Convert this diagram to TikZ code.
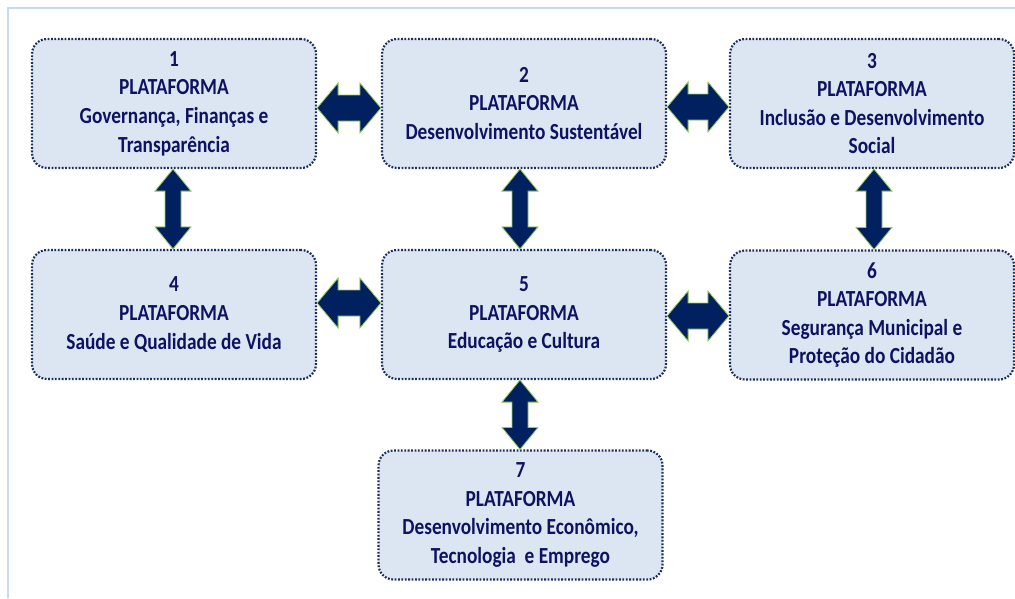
\documentclass[tikz,border=0pt]{standalone}
\usepackage{fontspec}
\setmainfont{Carlito}[FakeStretch=0.84]
\usepackage{tikz}
\usetikzlibrary{calc}
\definecolor{platfill}{RGB}{220,230,242}
\definecolor{platdots}{RGB}{28,46,94}
\definecolor{plattext}{RGB}{14,18,96}
\definecolor{linknavy}{RGB}{0,32,96}
\definecolor{linkgreen}{RGB}{150,200,90}
\definecolor{frameblue}{RGB}{198,217,241}
\newcommand\hlink[3]{%
  \path (#1.east |- 0,#3) coordinate (hs) (#2.west |- 0,#3) coordinate (ht);
  \draw[link] (hs) -- ++(21,-25) -- ++(0,12) -- ($(ht)+(-21,-13)$) -- ++(0,-12) -- (ht)
    -- ++(-21,25) -- ++(0,-12) -- ($(hs)+(21,13)$) -- ++(0,12) -- cycle;}
\newcommand\vlink[3]{%
  \path (#1.south -| #3,0) coordinate (vs) (#2.north -| #3,0) coordinate (vt);
  \draw[link] (vs) -- ++(18,22) -- ++(-10,0) -- ($(vt)+(8,-22)$) -- ++(10,0) -- (vt)
    -- ++(-18,-22) -- ++(10,0) -- ($(vs)+(-8,22)$) -- ++(-10,0) -- cycle;}
\begin{document}
\begin{tikzpicture}
      [x=1pt,y=-1pt,
        plat/.style={draw=platdots,fill=platfill,rounded corners=15pt,
          line width=2.2pt,dash pattern=on 1.8pt off 1.6pt,
          minimum width=284pt,minimum height=129pt,align=center,
          text=plattext,font=\fontsize{23}{28.6}\selectfont\bfseries,
          execute at begin node={\rule{0pt}{22pt}}},
        link/.style={fill=linknavy,draw=linkgreen,line width=0.8pt}]
  \useasboundingbox (0,0) rectangle (1015,598);
  \draw[frameblue,line width=2pt] (8,598) -- (8,8) -- (1015,8);
  \node[plat] (p1) at (174,103.5) {1\\PLATAFORMA\\Governança, Finanças e\\Transparência};
  \node[plat] (p2) at (524,103.5) {2\\PLATAFORMA\\Desenvolvimento Sustentável};
  \node[plat] (p3) at (872,103.5) {3\\PLATAFORMA\\Inclusão e Desenvolvimento\\Social};
  \node[plat] (p4) at (174,314.5) {4\\PLATAFORMA\\Saúde e Qualidade de Vida};
  \node[plat] (p5) at (524,314.5) {5\\PLATAFORMA\\Educação e Cultura};
  \node[plat] (p6) at (872,315) {6\\PLATAFORMA\\Segurança Municipal e\\Proteção do Cidadão};
  \node[plat] (p7) at (520.5,515) {7\\PLATAFORMA\\Desenvolvimento Econômico,\\Tecnologia\ \ e Emprego};
  \hlink{p1}{p2}{108}
  \hlink{p2}{p3}{107}
  \hlink{p4}{p5}{303}
  \hlink{p5}{p6}{316}
  \vlink{p1}{p4}{173}
  \vlink{p2}{p5}{520}
  \vlink{p3}{p6}{874}
  \vlink{p5}{p7}{520}
\end{tikzpicture}
\end{document}
